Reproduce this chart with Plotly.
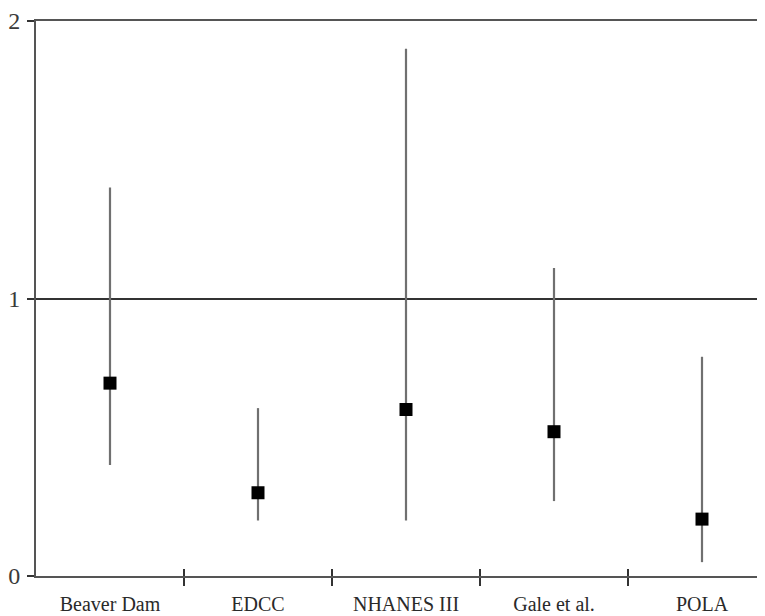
import plotly.graph_objects as go

studies = ["Beaver Dam", "EDCC", "NHANES III", "Gale et al.", "POLA"]
estimate = [0.695, 0.30, 0.60, 0.52, 0.205]
lower = [0.40, 0.20, 0.20, 0.27, 0.05]
upper = [1.40, 0.605, 1.90, 1.11, 0.79]
y_ticks = [0, 1, 2]

xpos = list(range(len(studies)))
err_plus = [u - e for u, e in zip(upper, estimate)]
err_minus = [e - l for e, l in zip(estimate, lower)]

font_family = "Liberation Serif, Times New Roman, serif"
axis_color = "#555555"

fig = go.Figure()
fig.add_trace(go.Scatter(
    x=xpos, y=estimate, mode="markers",
    marker=dict(symbol="square", size=13, color="black"),
    error_y=dict(type="data", symmetric=False, array=err_plus, arrayminus=err_minus,
                 width=0, thickness=2.2, color="#707070"),
    showlegend=False, cliponaxis=False,
))
# invisible traces to activate overlay axes
fig.add_trace(go.Scatter(x=xpos, y=estimate, xaxis="x2", mode="markers",
                         marker=dict(opacity=0), showlegend=False, hoverinfo="skip"))
fig.add_trace(go.Scatter(x=xpos, y=estimate, xaxis="x3", mode="markers",
                         marker=dict(opacity=0), showlegend=False, hoverinfo="skip"))

xr = [-0.5, -0.5 + 729 / 148]
bounds = [i + 0.5 for i in xpos[:-1]]

fig.update_layout(
    width=757, height=608,
    margin=dict(l=28, r=0, t=13, b=40),
    plot_bgcolor="white", paper_bgcolor="white",
    font=dict(family=font_family, size=20, color="#2a2a2a"),
    xaxis=dict(range=xr, tickmode="array", tickvals=bounds, ticktext=["" for _ in bounds],
               ticks="outside", ticklen=8, tickwidth=1.5, tickcolor="#333333",
               showline=True, linecolor=axis_color, linewidth=2, mirror=True,
               showgrid=False, zeroline=False, automargin=False),
    xaxis2=dict(range=xr, overlaying="x", side="bottom", tickmode="array",
                tickvals=bounds, ticktext=["" for _ in bounds],
                ticks="inside", ticklen=7, tickwidth=1.5, tickcolor="#333333",
                showline=False, showgrid=False, zeroline=False, automargin=False),
    xaxis3=dict(range=xr, overlaying="x", side="bottom", tickmode="array",
                tickvals=xpos, ticktext=studies, ticks="", ticklabelstandoff=14,
                showline=False, showgrid=False, zeroline=False, automargin=False,
                tickfont=dict(family=font_family, size=20, color="#2a2a2a")),
    yaxis=dict(range=[0, 2], tickmode="array", tickvals=y_ticks,
               ticktext=[str(t) for t in y_ticks],
               ticks="outside", ticklen=7, tickwidth=1.5, tickcolor="#333333",
               showline=True, linecolor=axis_color, linewidth=2,
               showgrid=True, gridcolor="#333333", gridwidth=1.5, zeroline=False,
               automargin=False, ticklabelstandoff=2,
               tickfont=dict(family=font_family, size=24, color="#3a3a3a")),
)

fig.write_html("out.html")
